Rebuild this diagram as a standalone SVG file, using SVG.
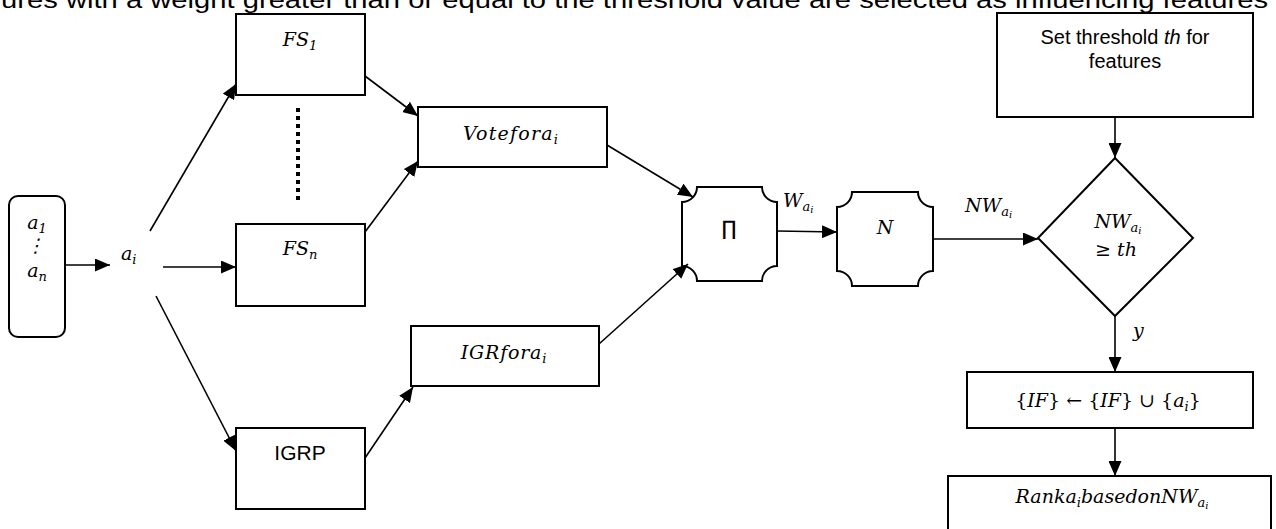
<svg xmlns="http://www.w3.org/2000/svg" width="1276" height="529" viewBox="0 0 1276 529">
<style>
.box{fill:#fff;stroke:#000;stroke-width:2}
.ln{fill:none;stroke:#000;stroke-width:1.6}
.m{font-family:"DejaVu Serif","Liberation Serif",serif;font-style:italic;font-size:19px;fill:#000}
.s{font-size:13px}
.ss{font-size:10px}
.t{font-family:"Liberation Sans",Arial,sans-serif;fill:#000}
</style>
<defs>
<marker id="ah" markerUnits="userSpaceOnUse" markerWidth="15" markerHeight="13" refX="15" refY="6.5" orient="auto">
<path d="M0,0 L15,6.5 L0,13 z" fill="#000"/>
</marker>
</defs>
<text class="t" x="1" y="8" font-size="24" textLength="1267" lengthAdjust="spacingAndGlyphs">ures with a weight greater than or equal to the threshold value are selected as influencing features</text>
<g id="input">
<rect class="box" x="9" y="196" width="56" height="141" rx="9"/>
<text class="m" x="37" y="229" text-anchor="middle">a<tspan class="s" dy="4">1</tspan></text>
<text class="m" x="35" y="252" text-anchor="middle" font-style="normal">⋮</text>
<text class="m" x="37" y="277" text-anchor="middle">a<tspan class="s" dy="4">n</tspan></text>
</g>
<g id="ai">
<text class="m" x="121" y="260">a<tspan class="s" dy="4">i</tspan></text>
</g>
<g id="fs1">
<rect class="box" x="236" y="14" width="129" height="81"/>
<text class="m" x="300" y="46" text-anchor="middle">FS<tspan class="s" dy="4">1</tspan></text>
</g>
<g id="dots">
<line x1="298" y1="108" x2="298" y2="204" stroke="#000" stroke-width="4" stroke-dasharray="4,4"/>
</g>
<g id="fsn">
<rect class="box" x="236" y="224" width="129" height="82"/>
<text class="m" x="300" y="255" text-anchor="middle">FS<tspan class="s" dy="4">n</tspan></text>
</g>
<g id="igrp">
<rect class="box" x="236" y="428" width="129" height="81"/>
<text class="t" x="300" y="460" font-size="21" text-anchor="middle">IGRP</text>
</g>
<g id="vote">
<rect class="box" x="418" y="107" width="189" height="60"/>
<text class="m" x="511" y="140" text-anchor="middle" letter-spacing="1.2">Votefora<tspan class="s" dy="4">i</tspan></text>
</g>
<g id="igrfor">
<rect class="box" x="411" y="326" width="188" height="60"/>
<text class="m" x="504" y="359" text-anchor="middle" letter-spacing="0.8">IGRfora<tspan class="s" dy="4">i</tspan></text>
</g>
<g id="prod">
<path class="box" d="M697,187 L762,187 A15,15 0 0 0 777,202 L777,266 A15,15 0 0 0 762,281 L697,281 A15,15 0 0 0 682,266 L682,202 A15,15 0 0 0 697,187 Z"/>
<text x="729" y="235" text-anchor="middle" font-family="DejaVu Sans,sans-serif" font-size="20">∏</text>
</g>
<g id="norm">
<path class="box" d="M852,192 L918,192 A15,15 0 0 0 933,207 L933,271 A15,15 0 0 0 918,286 L852,286 A15,15 0 0 0 837,271 L837,207 A15,15 0 0 0 852,192 Z"/>
<text class="m" x="885" y="234" text-anchor="middle">N</text>
</g>
<g id="thresh">
<rect class="box" x="997" y="13" width="256" height="104"/>
<text class="t" x="1125" y="44" font-size="20" text-anchor="middle">Set threshold <tspan font-style="italic">th</tspan> for</text>
<text class="t" x="1125" y="68" font-size="20" text-anchor="middle">features</text>
</g>
<g id="decision">
<path class="box" d="M1115,158 L1193,238 L1115,316 L1038,238 Z"/>
<text class="m" x="1118" y="228" text-anchor="middle">NW<tspan class="s" dy="4">a</tspan><tspan class="ss" dy="2">i</tspan></text>
<text class="m" x="1116" y="256" text-anchor="middle"><tspan font-style="normal">≥</tspan> th</text>
</g>
<g id="ifset">
<rect class="box" x="967" y="372" width="286" height="56"/>
<text class="m" x="1108" y="407" text-anchor="middle"><tspan font-style="normal">{</tspan>IF<tspan font-style="normal">} ← {</tspan>IF<tspan font-style="normal">} ∪ {</tspan>a<tspan class="s" dy="4">i</tspan><tspan font-style="normal" dy="-4">}</tspan></text>
</g>
<g id="rank">
<rect class="box" x="948" y="476" width="323" height="70"/>
<text class="m" x="1112" y="503" text-anchor="middle">Ranka<tspan class="s" dy="4">i</tspan><tspan dy="-4">basedonNW</tspan><tspan class="s" dy="4">a</tspan><tspan class="ss" dy="2">i</tspan></text>
</g>
<g id="connectors">
<line class="ln" x1="65" y1="265" x2="110" y2="265" marker-end="url(#ah)"/>
<line class="ln" x1="150" y1="231" x2="236" y2="84" marker-end="url(#ah)"/>
<line class="ln" x1="163" y1="267" x2="236" y2="267" marker-end="url(#ah)"/>
<line class="ln" x1="156" y1="296" x2="236" y2="451" marker-end="url(#ah)"/>
<line class="ln" x1="365" y1="76" x2="418" y2="116" marker-end="url(#ah)"/>
<line class="ln" x1="365" y1="232" x2="418" y2="161" marker-end="url(#ah)"/>
<line class="ln" x1="365" y1="458" x2="413" y2="387" marker-end="url(#ah)"/>
<line class="ln" x1="607" y1="145" x2="693" y2="197" marker-end="url(#ah)"/>
<line class="ln" x1="599" y1="344" x2="688" y2="264" marker-end="url(#ah)"/>
<line class="ln" x1="777" y1="231" x2="837" y2="232" marker-end="url(#ah)"/>
<line class="ln" x1="933" y1="239" x2="1038" y2="239" marker-end="url(#ah)"/>
<line class="ln" x1="1115" y1="117" x2="1115" y2="158" marker-end="url(#ah)"/>
<line class="ln" x1="1115" y1="316" x2="1115" y2="372" marker-end="url(#ah)"/>
<line class="ln" x1="1115" y1="428" x2="1115" y2="476" marker-end="url(#ah)"/>
<text class="m" x="783" y="207">W<tspan class="s" dy="4">a</tspan><tspan class="ss" dy="2">i</tspan></text>
<text class="m" x="965" y="212">NW<tspan class="s" dy="4">a</tspan><tspan class="ss" dy="2">i</tspan></text>
<text class="m" x="1133" y="337">y</text>
</g>
</svg>
